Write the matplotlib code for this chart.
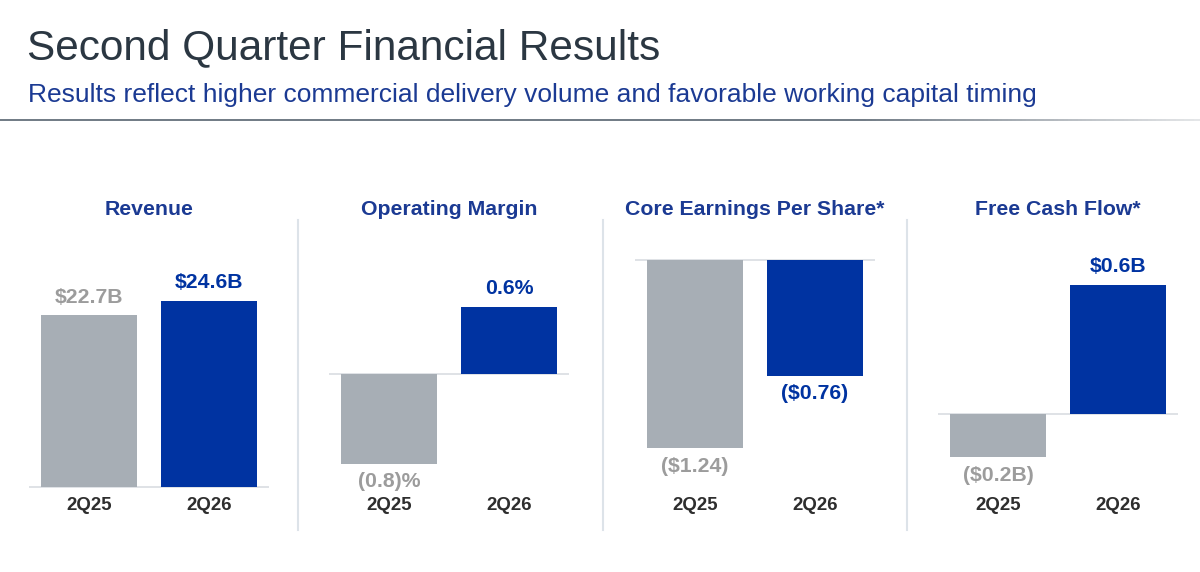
import numpy as np
import matplotlib
matplotlib.use('Agg')
from matplotlib import pyplot as plt
from matplotlib import transforms
from matplotlib.colors import LinearSegmentedColormap

plt.rcParams['font.family'] = ['Liberation Sans', 'DejaVu Sans']

# data
panels = ['Revenue', 'Operating Margin', 'Core Earnings Per Share*', 'Free Cash Flow*']
quarters = ['2Q25', '2Q26']
revenue = [22.7, 24.6]
op_margin = [-0.8, 0.6]
core_eps = [-1.24, -0.76]
fcf = [-0.2, 0.6]
labels = [['$22.7B', '$24.6B'],
          ['(0.8)%', '0.6%'],
          ['($1.24)', '($0.76)'],
          ['($0.2B)', '$0.6B']]
series = [revenue, op_margin, core_eps, fcf]

GRAY = '#A7AEB5'
BLUE = '#0033A1'
GRAY_TXT = '#9C9C9C'
TITLE_BLUE = '#1B3A93'

W, H = 1200, 572
fig = plt.figure(figsize=(12, 5.72), dpi=100)

# header
fig.text(27 / W, 1 - 48 / H, 'Second Quarter Financial Results', fontsize=30.5,
         color='#2B3742', va='center', ha='left')
fig.text(28 / W, 1 - 95 / H, 'Results reflect higher commercial delivery volume '
         'and favorable working capital timing', fontsize=19,
         color=TITLE_BLUE, va='center', ha='left')

# header rule, fading out to the right
rule = fig.add_axes([0, 1 - 121 / H, 1, 2 / H])
fade = LinearSegmentedColormap.from_list('fade', [(0, '#737D87'), (0.72, '#737D87'),
                                                  (1, '#E4E6E8')])
rule.imshow(np.linspace(0, 1, 600)[None, :], aspect='auto', cmap=fade,
            extent=[0, 1, 0, 1])
rule.axis('off')

# panel layout (pixels): axes left edge, baseline y, px per unit
lefts = [29, 329, 635, 938]
baselines = [487, 374, 260, 414]
scales = [7.57, 112, 152, 215]
ax_top, ax_bot = 220, 530

for k in range(4):
    ax = fig.add_axes([lefts[k] / W, 1 - ax_bot / H, 240 / W, (ax_bot - ax_top) / H])
    s, b = scales[k], baselines[k]
    ax.set_ylim(-(ax_bot - b) / s, (b - ax_top) / s)
    ax.set_xlim(-0.5, 1.5)
    ax.axis('off')

    vals = series[k]
    ax.bar([0, 1], vals, width=0.8, color=[GRAY, BLUE], zorder=2)
    ax.axhline(0, color='#D9DDE2', lw=1.2, zorder=1)

    for i, v in enumerate(vals):
        off = 13 if v >= 0 else -13
        ax.annotate(labels[k][i], (i, v), xytext=(0, off), textcoords='offset points',
                    ha='center', va='center', fontsize=15.3, fontweight='bold',
                    color=GRAY_TXT if i == 0 else BLUE)

    tr = transforms.blended_transform_factory(ax.transData, fig.transFigure)
    for i, q in enumerate(quarters):
        ax.text(i, 1 - 506 / H, q, transform=tr, ha='center', va='center',
                fontsize=13.4, fontweight='bold', color='#2E2E2E')
    ax.text(0.5, 1 - 210 / H, panels[k], transform=tr, ha='center', va='center',
            fontsize=15.3, fontweight='bold', color=TITLE_BLUE)

# vertical dividers
for x in [298, 603, 907]:
    fig.add_artist(plt.Line2D([x / W, x / W], [1 - 530 / H, 1 - 220 / H],
                              color='#DDE3E9', lw=1.5, transform=fig.transFigure))

fig.savefig('out.png', dpi=100, facecolor='white')
